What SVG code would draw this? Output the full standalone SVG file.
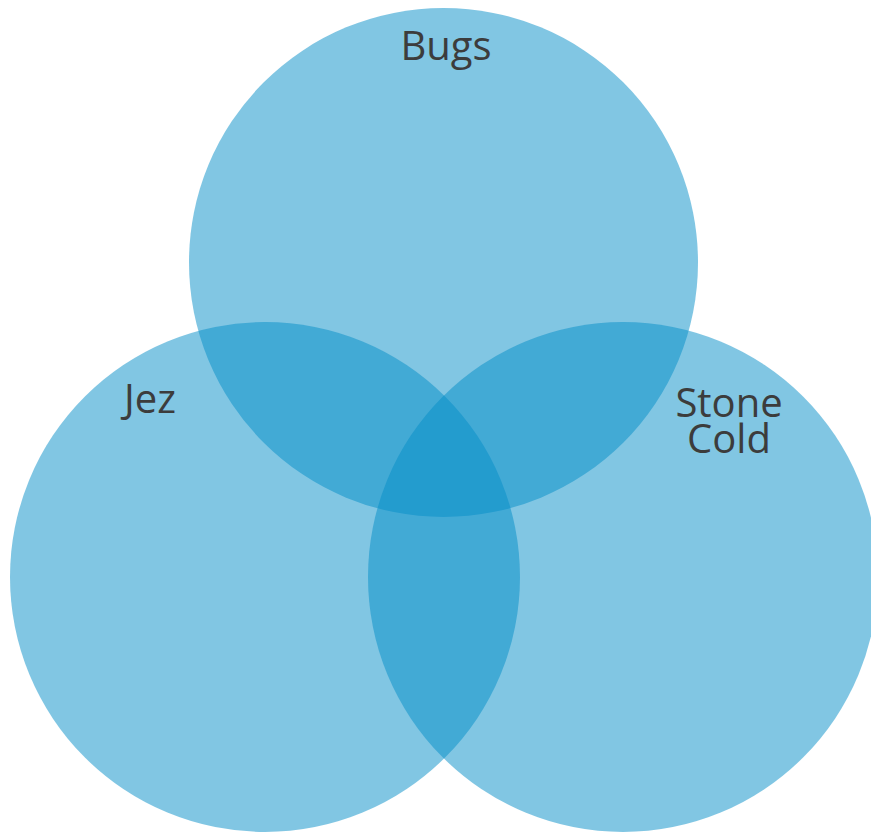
<svg xmlns="http://www.w3.org/2000/svg" width="871" height="832" viewBox="0 0 871 832">
  <style>
    .set { fill: #038EC7; fill-opacity: 0.5; }
    .label { font-family: "Open Sans", "Noto Sans", "Liberation Sans", sans-serif; font-size: 40px; fill: #3C3C3C; text-anchor: middle; }
  </style>
  <rect width="871" height="832" fill="#FFFFFF"/>
  <g id="bugs">
    <circle class="set" cx="443.5" cy="262.5" r="254.5"/>
    <text class="label" x="446" y="60">Bugs</text>
  </g>
  <g id="jez">
    <circle class="set" cx="265" cy="577" r="255"/>
    <text class="label" x="150" y="413">Jez</text>
  </g>
  <g id="stone-cold">
    <circle class="set" cx="623" cy="577" r="255"/>
    <!-- two-line label kept as one text element -->
    <text class="label" x="729" y="417"><tspan x="729">Stone</tspan><tspan x="729" dy="36">Cold</tspan></text>
  </g>
</svg>
